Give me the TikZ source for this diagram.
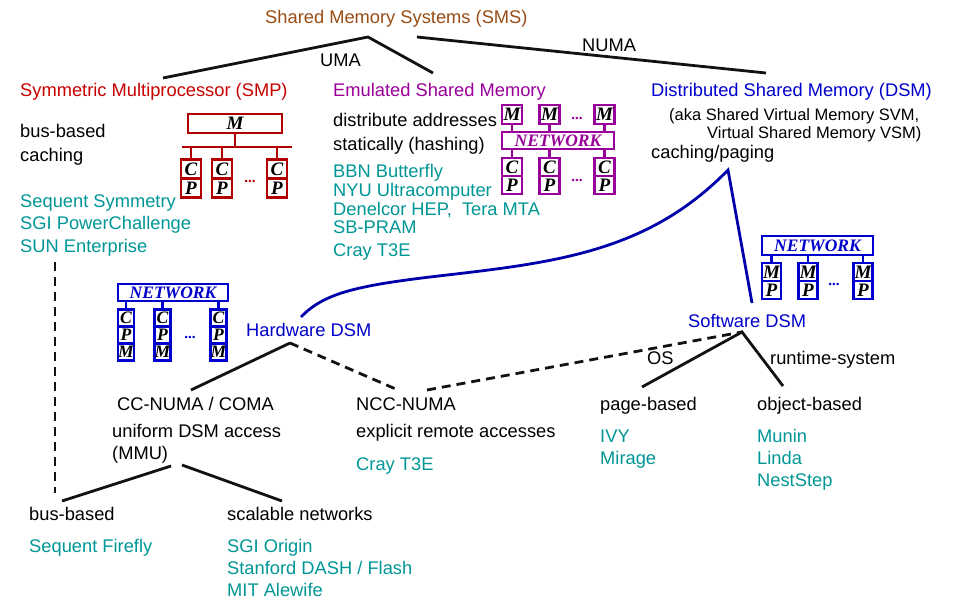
\documentclass[tikz,border=0pt]{standalone}
\usepackage{fontspec}
\setmainfont{Liberation Sans}
\newfontfamily\tmsfont{Liberation Serif}
\definecolor{smsbrown}{RGB}{153,76,20}
\definecolor{smpred}{RGB}{200,0,0}
\definecolor{boxred}{RGB}{178,0,0}
\definecolor{emupurple}{RGB}{153,0,153}
\definecolor{dsmblue}{RGB}{0,0,204}
\definecolor{curveblue}{RGB}{0,0,170}
\definecolor{exteal}{RGB}{0,150,150}
\newcommand\fsmain{\fontsize{18.3}{22}\selectfont}
\newcommand\fssmall{\fontsize{16.5}{20}\selectfont}
\tikzset{
  txt/.style={anchor=base west, inner sep=0pt, font=\fsmain},
  lbl/.style={txt, text=black},
  ex/.style={txt, text=exteal},
  conn/.style={line width=2.8pt, black!93},
  dconn/.style={conn, dash pattern=on 9pt off 6pt},
  cell/.style={draw, line width=2.8pt, fill=white, text=black, inner sep=0pt,
    font=\tmsfont\bfseries\itshape\fontsize{19}{19}\selectfont},
  cellR/.style={cell, draw=boxred},
  cellP/.style={cell, draw=emupurple},
  cellB/.style={cell, draw=dsmblue},
  netbox/.style={draw, line width=2.8pt, fill=white, inner sep=0pt,
    font=\tmsfont\bfseries\itshape\fontsize{17.5}{17.5}\selectfont},
  wire/.style={line width=2.6pt},
  dotsym/.style={inner sep=0pt, font=\tmsfont\bfseries\fontsize{15}{15}\selectfont}
}
\begin{document}
\begin{tikzpicture}[x=1pt,y=-1pt]
\useasboundingbox (0,0) rectangle (953,599);

% ---------- top level ----------
\node[txt, text=smsbrown] (sms) at (265,24) {Shared Memory Systems (SMS)};
\node[lbl] (uma) at (320,67) {UMA};
\node[lbl] (numa) at (582,52) {NUMA};
\node[txt, text=smpred] (smp) at (20,97) {Symmetric Multiprocessor (SMP)};
\node[txt, text=emupurple] (emu) at (333,97) {Emulated Shared Memory};
\node[txt, text=dsmblue] (dsm) at (651,97) {Distributed Shared Memory (DSM)};
\node[lbl, font=\fssmall] (aka1) at (669,121) {(aka Shared Virtual Memory SVM,};
\node[lbl, font=\fssmall] (aka2) at (707,139) {Virtual Shared Memory VSM)};
\node[lbl] (cachpag) at (651,158) {caching/paging};

\coordinate (umaj) at (368,37);
\coordinate (smpj) at (163,78);
\coordinate (emuj) at (433,73);
\coordinate (numaj) at (417,37);
\coordinate (dsmj) at (766,73);
\draw[conn] (smpj) -- (umaj) -- (emuj);
\draw[conn] (numaj) -- (dsmj);

% ---------- SMP ----------
\node[lbl] (busb1) at (20,138) {bus-based};
\node[lbl] (cach1) at (20,161) {caching};
\node[ex] (seqsym) at (20,207) {Sequent Symmetry};
\node[ex] (sgipc) at (20,229) {SGI PowerChallenge};
\node[ex] (sunent) at (20,252) {SUN Enterprise};

\node[cellR, minimum width=94pt, minimum height=19pt] (smpM) at (235,123.5) {M};
\coordinate (busL) at (182,147);
\coordinate (busR) at (292,147);
\draw[wire, boxred] (busL) -- (busR);
\draw[wire, boxred] (smpM.south) -- (smpM.south |- busL);
\foreach \i/\x in {1/191,2/222,3/277}{
  \node[cellR, minimum width=20pt, minimum height=19pt] (smpC\i) at (\x,169) {C};
  \node[cellR, minimum width=20pt, minimum height=19pt] (smpP\i) at (\x,188) {P};
  \draw[wire, boxred] (smpC\i.north) -- (smpC\i.north |- busL);
}
\node[dotsym, text=boxred] (smpdots) at (250,181) {...};

% ---------- Emulated ----------
\node[lbl] (dist1) at (333,127) {distribute addresses};
\node[lbl] (dist2) at (333,150) {statically (hashing)};
\node[ex] (bbn) at (333,178) {BBN Butterfly};
\node[ex] (nyu) at (333,196) {NYU Ultracomputer};
\node[ex] (hep) at (333,215) {Denelcor HEP,\ \ Tera MTA};
\node[ex] (sbp) at (333,233) {SB-PRAM};
\node[ex] (cray1) at (333,256) {Cray T3E};

\node[netbox, draw=emupurple, text=emupurple, minimum width=112pt, minimum height=17pt] (emunet) at (558,140.5) {NETWORK};
\foreach \i/\x in {1/512,2/549.5,3/604.5}{
  \node[cellP, minimum width=20pt, minimum height=19pt] (emuM\i) at (\x,114.5) {M};
  \node[cellP, minimum width=20pt, minimum height=18pt] (emuC\i) at (\x,167) {C};
  \node[cellP, minimum width=20pt, minimum height=18pt] (emuP\i) at (\x,185) {P};
  \draw[wire, emupurple] (emuM\i.south) -- (emuM\i.south |- emunet.north);
  \draw[wire, emupurple] (emuC\i.north) -- (emuC\i.north |- emunet.south);
}
\node[dotsym, text=emupurple] (emudots1) at (577,118) {...};
\node[dotsym, text=emupurple] (emudots2) at (577,180) {...};

% ---------- Hardware DSM ----------
\node[netbox, draw=dsmblue, text=dsmblue, minimum width=110pt, minimum height=17pt] (hwnet) at (173,292.5) {NETWORK};
\foreach \i/\x in {1/126,2/162.5,3/218.5}{
  \node[cellB, minimum width=16pt, minimum height=17pt, font=\tmsfont\bfseries\itshape\fontsize{17.5}{17.5}\selectfont] (hwC\i) at (\x,318) {C};
  \node[cellB, minimum width=16pt, minimum height=17pt, font=\tmsfont\bfseries\itshape\fontsize{17.5}{17.5}\selectfont] (hwP\i) at (\x,335) {P};
  \node[cellB, minimum width=16pt, minimum height=17pt, font=\tmsfont\bfseries\itshape\fontsize{17.5}{17.5}\selectfont] (hwM\i) at (\x,352) {M};
  \draw[wire, dsmblue] (hwC\i.north) -- (hwC\i.north |- hwnet.south);
}
\node[dotsym, text=dsmblue] (hwdots) at (190,337) {...};

% ---------- Software DSM ----------
\node[netbox, draw=dsmblue, text=dsmblue, minimum width=111pt, minimum height=19pt] (swnet) at (817.5,245.5) {NETWORK};
\foreach \i/\x in {1/771.5,2/808,3/863}{
  \node[cellB, minimum width=19pt, minimum height=18pt] (swM\i) at (\x,272) {M};
  \node[cellB, minimum width=19pt, minimum height=18pt] (swP\i) at (\x,290) {P};
  \draw[wire, dsmblue] (swM\i.north) -- (swM\i.north |- swnet.south);
}
\node[dotsym, text=dsmblue] (swdots) at (834,284) {...};

% ---------- DSM split ----------
\node[txt, text=dsmblue] (hwdsm) at (246,336) {Hardware DSM};
\node[txt, text=dsmblue] (swdsm) at (688,327) {Software DSM};
\coordinate (hwtop) at (301,317);
\coordinate (curvemid) at (447,275);
\coordinate (apex) at (728,170);
\coordinate (swtop) at (752,303);
\draw[line width=2.8pt, curveblue] (hwtop) .. controls (325,292) and (360,285) .. (curvemid)
  .. controls (560,262) and (650,250) .. (apex) -- (swtop);

% ---------- Hardware branch ----------
\node[lbl] (ccnuma) at (117,410) {CC-NUMA / COMA};
\node[lbl] (unif) at (112,437) {uniform DSM access};
\node[lbl] (mmu) at (112,459) {(MMU)};
\node[lbl] (nccnuma) at (356,410) {NCC-NUMA};
\node[lbl] (explicit) at (356,437) {explicit remote accesses};
\node[ex] (cray2) at (356,470) {Cray T3E};

\coordinate (hwj) at (290,343);
\coordinate (ccj) at (191,390);
\coordinate (nccj) at (398,390);
\coordinate (nccj2) at (427,390);
\coordinate (swj) at (742,332);
\draw[conn] (hwj) -- (ccj);
\draw[dconn] (hwj) -- (nccj);
\draw[dconn] (nccj2) -- (swj);

% ---------- Software branch ----------
\node[lbl] (os) at (647,364) {OS};
\node[lbl] (rts) at (770,364) {runtime-system};
\node[lbl] (pageb) at (600,410) {page-based};
\node[lbl] (objb) at (757,410) {object-based};
\node[ex] (ivy) at (600,442) {IVY};
\node[ex] (mirage) at (600,464) {Mirage};
\node[ex] (munin) at (757,442) {Munin};
\node[ex] (linda) at (757,464) {Linda};
\node[ex] (neststep) at (757,486) {NestStep};
\coordinate (pagej) at (642,387);
\coordinate (objj) at (783,386);
\draw[conn] (pagej) -- (swj) -- (objj);

% ---------- CC-NUMA split ----------
\node[lbl] (busb2) at (29,520) {bus-based};
\node[ex] (firefly) at (29,552) {Sequent Firefly};
\node[lbl] (scal) at (227,520) {scalable networks};
\node[ex] (origin) at (227,552) {SGI Origin};
\node[ex] (dash) at (227,574) {Stanford DASH / Flash};
\node[ex] (alewife) at (227,596) {MIT Alewife};
\coordinate (mmuL) at (171,466);
\coordinate (mmuR) at (182,465);
\coordinate (busj) at (62,501);
\coordinate (scalj) at (282,501);
\draw[conn] (mmuL) -- (busj);
\draw[conn] (mmuR) -- (scalj);
\coordinate (symtop) at (55,262);
\coordinate (symbot) at (55,493);
\draw[dconn] (symtop) -- (symbot);
\end{tikzpicture}
\end{document}
